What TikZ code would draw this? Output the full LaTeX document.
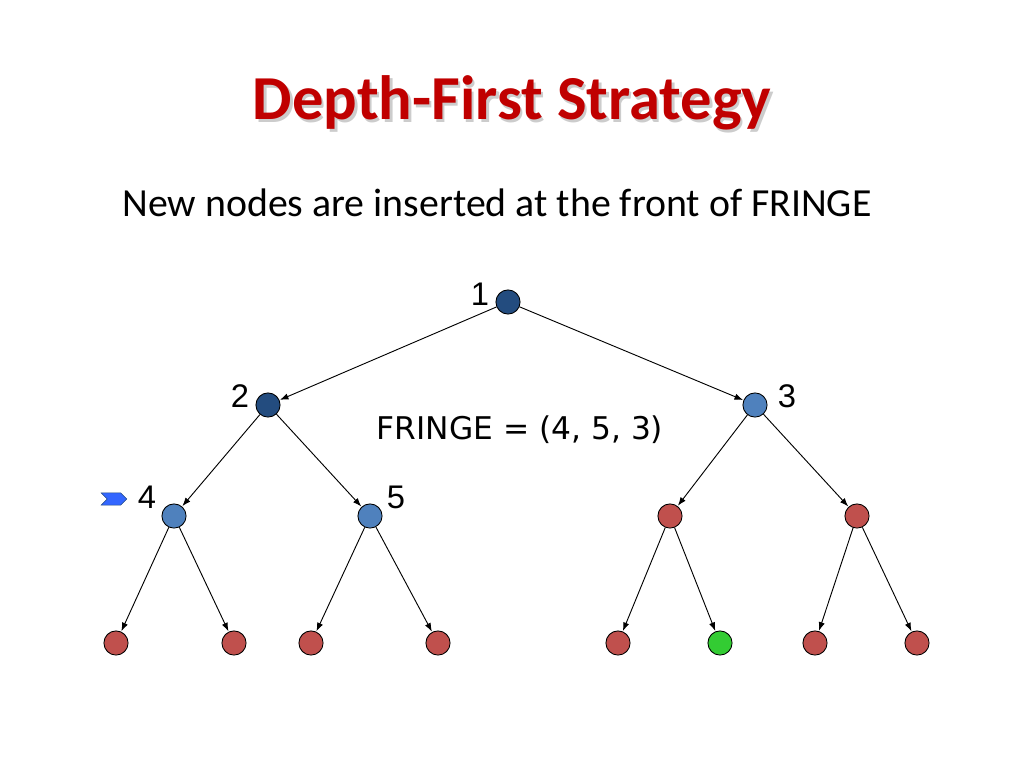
\documentclass[tikz,border=0pt]{standalone}
\usepackage{fontspec}
\setmainfont{Carlito}
\newfontfamily\fringefont{DejaVu Sans}
\newfontfamily\labelfont{Liberation Sans}
\usepackage{tikz}
\usetikzlibrary{shapes, shapes.symbols, arrows.meta, positioning}
\definecolor{titlered}{HTML}{C00000}
\definecolor{darkblue}{HTML}{234C7F}
\definecolor{lightblue}{HTML}{4F81BD}
\definecolor{nodered}{HTML}{C0504D}
\definecolor{nodegreen}{HTML}{33CC33}
\definecolor{markblue}{HTML}{3366FF}
\tikzset{
    base/.style={circle, draw=black, line width=0.6pt, minimum size=17pt, inner sep=0pt},
    expanded/.style={base, fill=darkblue},
    fringe/.style={base, fill=lightblue},
    unseen/.style={base, fill=nodered},
    goal/.style={base, fill=nodegreen},
    numlabel/.style={font=\labelfont\fontsize{23}{26}\selectfont, inner sep=0pt},
    line/.style={draw=black, line width=0.65pt, -{Latex[length=6pt, width=4.4pt]}, shorten >=0.3pt}
}
\begin{document}
\begin{tikzpicture}[x=0.703125pt, y=-0.703125pt]
    \useasboundingbox (0,0) rectangle (1024,768);
    % title and text
    \node [font=\bfseries\fontsize{44}{52}\selectfont, text=gray!40] at (514.5,105.5) {Depth-First Strategy};
    \node [font=\bfseries\fontsize{44}{52}\selectfont, text=titlered] (Title) at (512,103) {Depth-First Strategy};
    \node [font=\fontsize{28}{34}\selectfont] (Sub) at (497,203) {New nodes are inserted at the front of FRINGE};
    \node [font=\fringefont\fontsize{22}{26}\selectfont] (Fringe) at (520,430) {FRINGE = (4, 5, 3)};

    % tree nodes
    \node [expanded] (N1) at (508,302) {};
    \node [expanded] (N2) at (268,405) {};
    \node [fringe] (N3) at (755,405) {};
    \node [fringe] (N4) at (174,516) {};
    \node [fringe] (N5) at (370,516) {};
    \node [unseen] (N6) at (670,516) {};
    \node [unseen] (N7) at (857,516) {};
    \node [unseen] (L1) at (116,643) {};
    \node [unseen] (L2) at (234,643) {};
    \node [unseen] (L3) at (311,643) {};
    \node [unseen] (L4) at (438,643) {};
    \node [unseen] (L5) at (618,643) {};
    \node [goal] (L6) at (720,643) {};
    \node [unseen] (L7) at (815,643) {};
    \node [unseen] (L8) at (917,643) {};

    % labels
    \node [numlabel] at (480,294) {1};
    \node [numlabel] at (240,396) {2};
    \node [numlabel] at (787,396) {3};
    \node [numlabel] at (147,497) {4};
    \node [numlabel] at (396,497) {5};
    \node [signal, signal to=east, signal from=west, draw=darkblue, fill=markblue,
           minimum width=18pt, minimum height=8.5pt, inner sep=0pt] (Mark) at (114,499) {};

    % edges
    \draw [line] (N1) -- (N2);
    \draw [line] (N1) -- (N3);
    \draw [line] (N2) -- (N4);
    \draw [line] (N2) -- (N5);
    \draw [line] (N3) -- (N6);
    \draw [line] (N3) -- (N7);
    \draw [line] (N4) -- (L1);
    \draw [line] (N4) -- (L2);
    \draw [line] (N5) -- (L3);
    \draw [line] (N5) -- (L4);
    \draw [line] (N6) -- (L5);
    \draw [line] (N6) -- (L6);
    \draw [line] (N7) -- (L7);
    \draw [line] (N7) -- (L8);
\end{tikzpicture}
\end{document}
